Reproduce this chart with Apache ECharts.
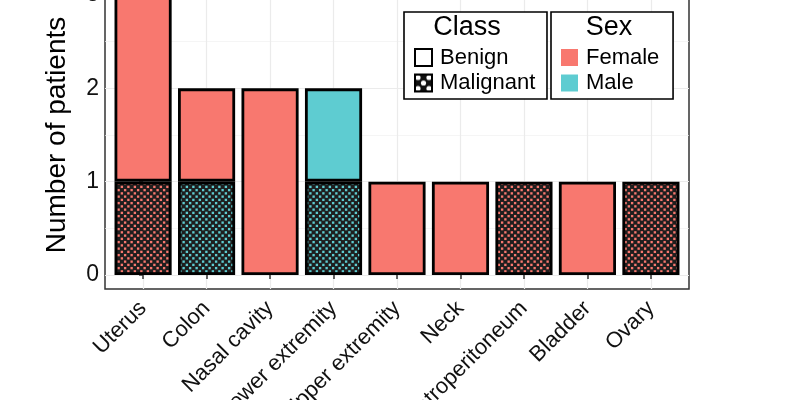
<!DOCTYPE html>
<html>
<head>
<meta charset="utf-8">
<script src="https://cdn.jsdelivr.net/npm/echarts@6/dist/echarts.min.js"></script>
<style>
  html, body { margin: 0; padding: 0; background: #fff; }
  #chart { width: 800px; height: 400px; }
</style>
</head>
<body>
<div id="chart"></div>
<script>
// data
var categories = ['Uterus', 'Colon', 'Nasal cavity', 'Lower extremity', 'Upper extremity',
                  'Neck', 'Retroperitoneum', 'Bladder', 'Ovary'];
var malignantFemale = [1, null, null, null, null, null, 1, null, 1];
var malignantMale   = [null, 1, null, 1, null, null, null, null, null];
var benignFemale    = [2, 1, 2, null, 1, 1, null, 1, null];
var benignMale      = [null, null, null, 1, null, null, null, null, null];
var yTicks = [0, 1, 2, 3];
var yMinorTicks = [0.5, 1.5, 2.5];
var xTicks = categories.map(function (c, i) { return i; });

var FEMALE = '#F8786F';
var MALE = '#5ECCD1';
var FONT = 'Liberation Sans';

initChart();

// small checker tile used as fill for the malignant bars
function checker(light, dark, size) {
    var c = document.createElement('canvas');
    c.width = size; c.height = size;
    var ctx = c.getContext('2d');
    ctx.fillStyle = dark;
    ctx.fillRect(0, 0, size, size);
    ctx.fillStyle = light;
    var s = size / 4;
    for (var i = 0; i < 4; i++) {
        for (var j = 0; j < 4; j++) {
            if ((i + j) % 2 === 0) {
                ctx.fillRect(i * s + 0.45, j * s + 0.45, s - 0.9, s - 0.9);
            }
        }
    }
    return { image: c, repeat: 'repeat' };
}

function keyPattern() {
    var c = document.createElement('canvas');
    c.width = 17; c.height = 17;
    var ctx = c.getContext('2d');
    ctx.fillStyle = '#111';
    ctx.fillRect(0, 0, 17, 17);
    ctx.fillStyle = '#fff';
    var pts = [[3, 3], [14, 3], [8.5, 8.5], [3, 14], [14, 14]];
    pts.forEach(function (p) {
        ctx.beginPath();
        ctx.arc(p[0], p[1], 2.6, 0, Math.PI * 2);
        ctx.fill();
    });
    return { image: c, repeat: 'no-repeat' };
}

// value first so the stack runs on the y dimension
function toPairs(values) {
    return values.map(function (v, i) { return [v === null ? '-' : v, i]; });
}

function barSeries(name, values, color) {
    return {
        name: name,
        type: 'bar',
        stack: 'total',
        barWidth: '90%',
        encode: { x: 1, y: 0 },
        data: toPairs(values),
        itemStyle: { color: color, borderColor: '#000', borderWidth: 2.8 },
        emphasis: { disabled: true }
    };
}

function keySeries(name, style) {
    return { name: name, type: 'bar', stack: 'total', encode: { x: 1, y: 0 }, data: [], itemStyle: style };
}

function initChart() {
    var dom = document.getElementById('chart');
    var myChart = echarts.init(dom, null, { renderer: 'canvas' });

    var axisText = { color: '#111', fontFamily: FONT };
    var legendBase = {
        orient: 'vertical', top: 12,
        icon: 'rect',
        itemWidth: 17, itemHeight: 17, itemGap: 3.5,
        borderColor: '#000', borderWidth: 1.6, backgroundColor: '#fff',
        selectedMode: false,
        textStyle: { fontSize: 22, lineHeight: 22, color: '#000', fontFamily: FONT, padding: [0, 0, 0, 3] }
    };

    var option = {
        animation: false,
        textStyle: { fontFamily: FONT },
        title: [
            { text: 'Class', left: 467, top: 14.5, padding: 0, textAlign: 'center',
              textStyle: { fontSize: 27, lineHeight: 27, fontWeight: 'normal', color: '#000', fontFamily: FONT } },
            { text: 'Sex', left: 609, top: 14.5, padding: 0, textAlign: 'center',
              textStyle: { fontSize: 27, lineHeight: 27, fontWeight: 'normal', color: '#000', fontFamily: FONT } }
        ],
        legend: [
            Object.assign({}, legendBase, {
                data: ['Benign', 'Malignant'],
                left: 404, padding: [34.5, 11.6, 5, 10]
            }),
            Object.assign({}, legendBase, {
                data: ['Female', 'Male'],
                left: 551, padding: [34.5, 13.7, 5, 10]
            })
        ],
        grid: {
            left: 105, right: 111, top: -19, bottom: 111,
            outerBoundsMode: 'none',
            containLabel: false,
            show: true, borderColor: '#333', borderWidth: 1.5, backgroundColor: '#fff'
        },
        xAxis: {
            type: 'value',
            min: -0.6, max: 8.6,
            axisLine: { show: false },
            axisTick: { customValues: xTicks, length: 4, lineStyle: { color: '#333', width: 1.5 } },
            axisLabel: Object.assign({
                customValues: xTicks,
                formatter: function (v) { return categories[v]; },
                rotate: 45, fontSize: 22, margin: 16
            }, axisText),
            splitLine: { show: true, lineStyle: { color: '#EBEBEB', width: 1.2 } }
        },
        yAxis: [
            {
                type: 'value',
                min: -0.15, max: 3.15,
                name: 'Number of patients',
                nameLocation: 'middle', nameGap: 34,
                nameTextStyle: { fontSize: 28, color: '#000', fontFamily: FONT },
                axisLine: { show: false },
                axisTick: { show: true, customValues: yTicks, length: 4, lineStyle: { color: '#333', width: 1.5 } },
                axisLabel: Object.assign({ customValues: yTicks, fontSize: 23, margin: 6 }, axisText),
                splitLine: { show: true, lineStyle: { color: '#EBEBEB', width: 1.2 } }
            },
            {
                type: 'value',
                min: -0.15, max: 3.15,
                position: 'right',
                axisLine: { show: false },
                axisTick: { show: false, customValues: yMinorTicks },
                axisLabel: { show: false },
                splitLine: { show: true, lineStyle: { color: '#F0F0F0', width: 0.7 } }
            }
        ],
        series: [
            barSeries('Malignant Female', malignantFemale, checker(FEMALE, '#1e1e1e', 13)),
            barSeries('Malignant Male', malignantMale, checker(MALE, '#1e1e1e', 13)),
            barSeries('Benign Female', benignFemale, FEMALE),
            barSeries('Benign Male', benignMale, MALE),
            keySeries('Benign', { color: '#fff', borderColor: '#000', borderWidth: 1.6 }),
            keySeries('Malignant', { color: keyPattern(), borderColor: '#000', borderWidth: 1.6 }),
            keySeries('Female', { color: FEMALE, borderWidth: 0 }),
            keySeries('Male', { color: MALE, borderWidth: 0 })
        ]
    };

    if (option && typeof option === 'object') {
        myChart.setOption(option);
    }

    window.addEventListener('resize', myChart.resize);
}
</script>
</body>
</html>
